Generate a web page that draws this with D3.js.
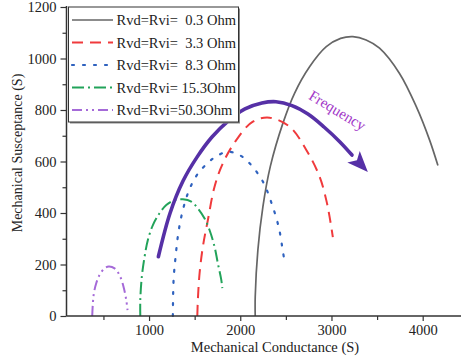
<!DOCTYPE html>
<html>
<head>
<meta charset="utf-8">
<script src="https://cdn.jsdelivr.net/npm/d3@7"></script>
<style>
  html, body { margin: 0; padding: 0; background: #fff; }
  svg { display: block; }
  text { font-family: "Liberation Serif", "Times New Roman", serif; }
</style>
</head>
<body>
<svg id="chart" width="461" height="360"></svg>
<script>
// ---- Data (G = mechanical conductance, B = mechanical susceptance) ----
const seriesNames = ["Rvd=Rvi=  0.3 Ohm", "Rvd=Rvi=  3.3 Ohm", "Rvd=Rvi=  8.3 Ohm", "Rvd=Rvi= 15.3Ohm", "Rvd=Rvi=50.3Ohm"];

const curve03 = [[2164,0],[2164,75],[2193,256],[2248,424],[2329,580],[2467,748],[2595,865],[2760,968],[2943,1046],[3100,1078],[3235,1085],[3380,1072],[3527,1040],[3746,942],[3930,813],[4076,683],[4167,584]];
const curve33 = [[1529,0],[1535,62],[1554,166],[1590,269],[1645,373],[1718,502],[1809,593],[1956,683],[2138,755],[2321,770],[2541,735],[2724,645],[2870,541],[2943,450],[2979,386],[3015,306]];
const curve83 = [[1261,0],[1269,140],[1291,230],[1323,327],[1371,412],[1440,490],[1526,548],[1645,595],[1737,620],[1864,638],[1992,625],[2102,593],[2248,522],[2346,435],[2423,343],[2467,252],[2486,210]];
const curve153 = [[904,0],[904,62],[921,153],[951,230],[987,295],[1042,353],[1115,399],[1189,431],[1280,450],[1371,453],[1463,444],[1535,418],[1609,379],[1663,334],[1718,269],[1754,205],[1792,140],[1803,108]];
const curve503 = [[377,0],[384,49],[395,88],[421,127],[457,159],[512,185],[559,192],[622,185],[676,159],[720,114],[750,62],[764,23]];

const seriesData = [curve03, curve33, curve83, curve153, curve503];
const seriesColors = ["#666666", "#f03a3c", "#2f62bf", "#22a35a", "#a56ad8"];
const seriesDash = [null, "11,7", "2,9", "12,4,2,4", "10,4,2,4,2,4"];
const seriesWidth = [1.7, 2, 2.2, 2, 2];

// Frequency arrow annotation (data units); last point is the arrow tip
const arrowPath = [[1102,230],[1230,399],[1372,524],[1526,617],[1690,695],[1866,757],[2052,804],[2238,827],[2392,832],[2567,817],[2742,784],[2918,734],[3093,676],[3225,625],[3399,559]];
const arrowLabel = {text: "Frequency", g: 3065, b: 798};

// Ticks
const xMajorTicks = [1000, 2000, 3000, 4000];
const xMinorTicks = [500, 1500, 2500, 3500];
const yMajorTicks = [0, 200, 400, 600, 800, 1000, 1200];
const yMinorTicks = [100, 300, 500, 700, 900, 1100];
const xTitle = "Mechanical Conductance (S)";
const yTitle = "Mechanical Susceptance (S)";

// ---- Chart ----
const svg = d3.select("#chart");
const x = d3.scaleLinear().domain([95, 4420]).range([66.5, 461]);
const y = d3.scaleLinear().domain([0, 1200]).range([316, 7]);
const axisColor = "#333";

const line = d3.line().x(d => x(d[0])).y(d => y(d[1])).curve(d3.curveCatmullRom.alpha(0.5));

// curves
const curvesG = svg.append("g");
seriesData.forEach((data, i) => {
  curvesG.append("path")
    .attr("d", line(data))
    .attr("fill", "none")
    .attr("stroke", seriesColors[i])
    .attr("stroke-width", seriesWidth[i])
    .attr("stroke-dasharray", seriesDash[i])
    .attr("stroke-linecap", i === 2 ? "round" : "butt");
});

// Arrow
const arrowColor = "#5630a6";
const aG = svg.append("g");
const tip = arrowPath[arrowPath.length - 1];
const prev = arrowPath[arrowPath.length - 2];
const tx = x(tip[0]), ty = y(tip[1]);
const ang = Math.atan2(ty - y(prev[1]), tx - x(prev[0]));
const headLen = 21, headHalf = 8.5, notch = 5;
const bx = tx - headLen * Math.cos(ang), by = ty - headLen * Math.sin(ang);
const nx = -Math.sin(ang), ny = Math.cos(ang);
const shaftData = arrowPath.slice(0, -1);
aG.append("path")
  .attr("d", line(shaftData))
  .attr("fill", "none")
  .attr("stroke", arrowColor)
  .attr("stroke-width", 3.6)
  .attr("stroke-linecap", "round");
const nxp = bx + notch * Math.cos(ang), nyp = by + notch * Math.sin(ang);
aG.append("path")
  .attr("d", `M${tx},${ty} L${bx + headHalf*nx},${by + headHalf*ny} L${nxp},${nyp} L${bx - headHalf*nx},${by - headHalf*ny} Z`)
  .attr("fill", arrowColor);

svg.append("text")
  .attr("transform", `translate(${x(arrowLabel.g)},${y(arrowLabel.b)}) rotate(31)`)
  .attr("text-anchor", "middle")
  .attr("dominant-baseline", "central")
  .attr("font-size", 15)
  .attr("fill", "#a236c8")
  .text(arrowLabel.text);

// Axes
const xAxisG = svg.append("g").attr("transform", `translate(0,${y(0)})`);
xAxisG.append("line").attr("x1", x.range()[0]).attr("x2", x.range()[1])
  .attr("stroke", axisColor).attr("stroke-width", 1.5);
xAxisG.append("g").call(d3.axisBottom(x).tickValues(xMinorTicks).tickSize(4).tickFormat(""))
  .call(g => g.select(".domain").remove())
  .call(g => g.selectAll("line").attr("stroke", axisColor).attr("stroke-width", 1.2));
xAxisG.append("g").call(d3.axisBottom(x).tickValues(xMajorTicks).tickSize(5).tickPadding(4).tickFormat(d3.format("d")))
  .call(g => g.select(".domain").remove())
  .call(g => g.selectAll("line").attr("stroke", axisColor).attr("stroke-width", 1.2))
  .call(g => g.selectAll("text").attr("font-size", 14.5).attr("fill", "#222")
        .attr("font-family", '"Liberation Serif", serif'));

const yAxisG = svg.append("g").attr("transform", `translate(${x.range()[0]},0)`);
yAxisG.append("line").attr("y1", y(0)).attr("y2", y(1200) - 1)
  .attr("stroke", axisColor).attr("stroke-width", 1.5);
yAxisG.append("g").call(d3.axisLeft(y).tickValues(yMinorTicks).tickSize(4).tickFormat(""))
  .call(g => g.select(".domain").remove())
  .call(g => g.selectAll("line").attr("stroke", axisColor).attr("stroke-width", 1.2));
yAxisG.append("g").call(d3.axisLeft(y).tickValues(yMajorTicks).tickSize(6).tickPadding(4).tickFormat(d3.format("d")))
  .call(g => g.select(".domain").remove())
  .call(g => g.selectAll("line").attr("stroke", axisColor).attr("stroke-width", 1.2))
  .call(g => g.selectAll("text").attr("font-size", 14.5).attr("fill", "#222")
        .attr("font-family", '"Liberation Serif", serif'));

// Axis titles
svg.append("text")
  .attr("x", 275).attr("y", 352)
  .attr("text-anchor", "middle")
  .attr("font-size", 14.5).attr("fill", "#222")
  .text(xTitle);
svg.append("text")
  .attr("transform", `translate(22,153) rotate(-90)`)
  .attr("text-anchor", "middle")
  .attr("font-size", 14).attr("fill", "#222")
  .text(yTitle);

// Legend
const lg = svg.append("g");
const lx0 = 68.5, ly0 = 7, lw = 170, lh = 115;
lg.append("rect").attr("x", lx0 + 1.5).attr("y", ly0 + 1.5).attr("width", lw).attr("height", lh)
  .attr("fill", "#888");
lg.append("rect").attr("x", lx0).attr("y", ly0).attr("width", lw).attr("height", lh)
  .attr("fill", "#fff").attr("stroke", "#333").attr("stroke-width", 1);
const rowY = d3.scalePoint().domain(d3.range(seriesNames.length)).range([20, 110]);
seriesNames.forEach((name, i) => {
  const yy = rowY(i);
  lg.append("line")
    .attr("x1", 72).attr("x2", 113).attr("y1", yy).attr("y2", yy)
    .attr("stroke", seriesColors[i])
    .attr("stroke-width", seriesWidth[i])
    .attr("stroke-dasharray", seriesDash[i])
    .attr("stroke-linecap", i === 2 ? "round" : "butt");
  lg.append("text")
    .attr("x", 116.5).attr("y", yy + 5)
    .attr("font-size", 14.5).attr("fill", "#222")
    .style("white-space", "pre")
    .text(name);
});
</script>
</body>
</html>
